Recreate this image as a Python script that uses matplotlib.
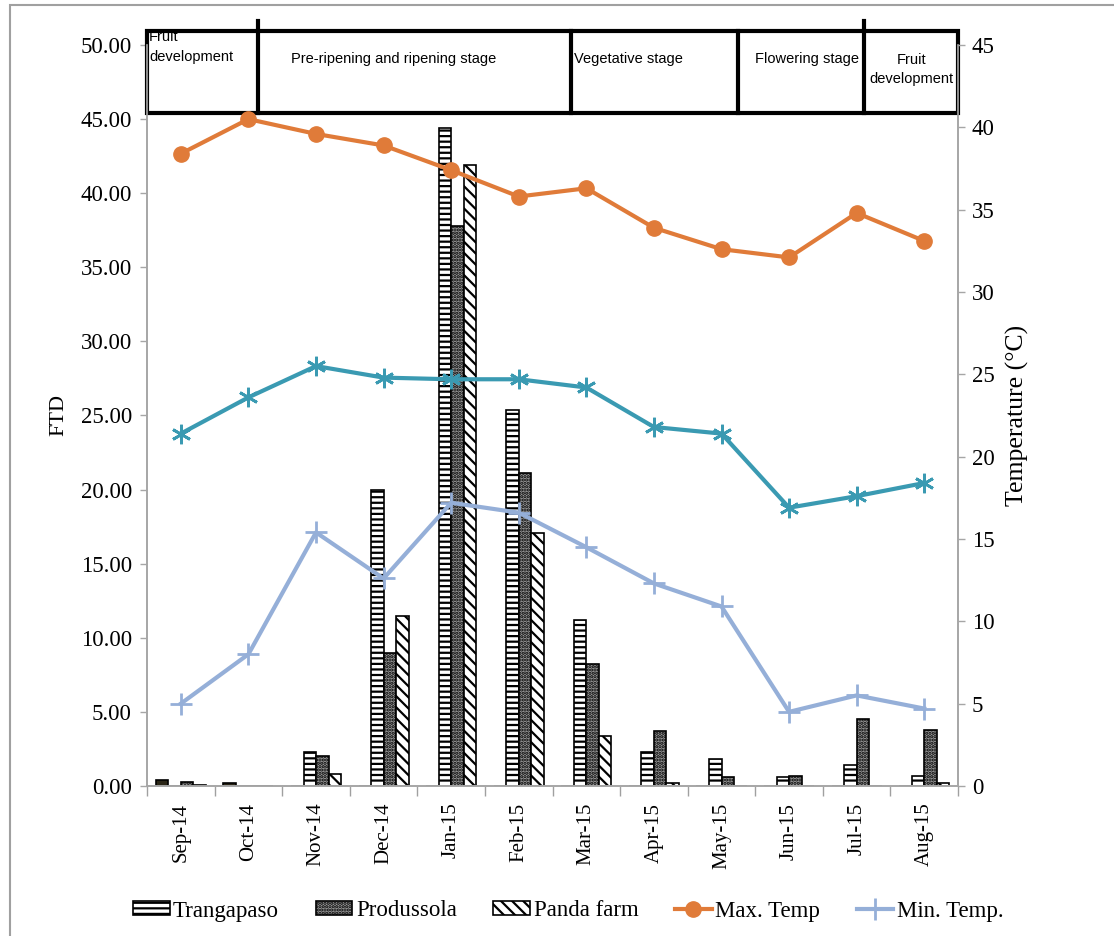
import matplotlib
matplotlib.use("Agg")
import matplotlib.pyplot as plt
import matplotlib.transforms as mtransforms
from matplotlib.patches import Rectangle
from matplotlib.lines import Line2D
import numpy as np

# ---- data -------------------------------------------------------------
months = ["Sep-14", "Oct-14", "Nov-14", "Dec-14", "Jan-15", "Feb-15",
          "Mar-15", "Apr-15", "May-15", "Jun-15", "Jul-15", "Aug-15"]

# FTD per site
dark_series = [0.4, 0.2, 0, 0, 0, 0, 0, 0, 0, 0, 0, 0]
trangapaso = [0.0, 0.0, 2.3, 20.0, 44.4, 25.4, 11.2, 2.3, 1.8, 0.6, 1.4, 0.7]
produssola = [0.3, 0.02, 2.0, 9.0, 37.8, 21.1, 8.2, 3.7, 0.6, 0.7, 4.5, 3.8]
panda_farm = [0.05, 0.02, 0.8, 11.5, 41.9, 17.1, 3.4, 0.2, 0.02, 0.02, 0.02, 0.2]

# temperatures (°C)
max_temp = [38.4, 40.5, 39.6, 38.9, 37.4, 35.8, 36.3, 33.9, 32.6, 32.1, 34.8, 33.1]
mean_temp = [21.4, 23.6, 25.5, 24.8, 24.7, 24.7, 24.2, 21.8, 21.4, 16.9, 17.6, 18.4]
min_temp = [5.0, 8.0, 15.4, 12.6, 17.2, 16.6, 14.5, 12.3, 10.9, 4.5, 5.5, 4.7]

# phenological stages: (label, start, end) on the category axis
stage_labels = ["Fruit\ndevelopment", "Pre-ripening and ripening stage",
                "Vegetative stage", "Flowering stage", "Fruit\ndevelopment"]
stage_edges = [-0.5, 1.14, 5.77, 8.25, 10.11, 11.5]

# ---- figure -----------------------------------------------------------
plt.rcParams["hatch.linewidth"] = 1.6
serif = "Liberation Serif"

fig = plt.figure(figsize=(11.14, 9.36), dpi=100)
ax = fig.add_axes([0.132, 0.1603, 0.728, 0.7916])
ax2 = ax.twinx()

x = np.arange(len(months))
w = 0.185
edge = "black"
ax.bar(x - 1.5 * w, dark_series, w, color="#2b2617", edgecolor=edge, linewidth=1.2)
ax.bar(x - 0.5 * w, trangapaso, w, color="white", edgecolor=edge, hatch="---",
       linewidth=1.2, label="Trangapaso")
ax.bar(x + 0.5 * w, produssola, w, color="#9a9a9a", edgecolor=edge, hatch=".....",
       linewidth=1.2, label="Produssola")
ax.bar(x + 1.5 * w, panda_farm, w, color="white", edgecolor=edge, hatch="\\\\\\",
       linewidth=1.2, label="Panda farm")

orange = "#E07B39"
teal = "#3A9AB2"
lblue = "#95AFD8"
ax2.plot(x, max_temp, color=orange, lw=3, marker="o", ms=11, label="Max. Temp")
ax2.plot(x, mean_temp, color=teal, lw=3, marker=(6, 2, 0), ms=14, mew=2)
ax2.plot(x, min_temp, color=lblue, lw=3, marker="+", ms=16, mew=2, label="Min. Temp.")

# axes
ax.set_xlim(-0.5, 11.5)
ax.set_ylim(0, 50)
ax2.set_ylim(0, 45)
ax.set_yticks(np.arange(0, 50.1, 5))
ax.set_yticklabels([f"{v:.2f}" for v in np.arange(0, 50.1, 5)])
ax2.set_yticks(np.arange(0, 45.1, 5))

ax.set_xticks(x)
ax.set_xticklabels(months, rotation=90, fontfamily=serif, fontsize=15)
ax.set_xticks(np.arange(-0.5, 11.6, 1), minor=True)
ax.tick_params(axis="x", which="major", length=0, pad=12)
ax.tick_params(axis="x", which="minor", length=7, color="#a0a0a0", width=1)

gray = "#a6a6a6"
for a in (ax, ax2):
    a.spines["top"].set_visible(False)
    for s in ("left", "right", "bottom"):
        a.spines[s].set_color(gray)
        a.spines[s].set_linewidth(1.2)
    a.tick_params(axis="y", length=5, color=gray, width=1, labelsize=16.5)
    for lab in a.get_yticklabels():
        lab.set_fontfamily(serif)
ax.tick_params(axis="y", pad=6)
ax2.tick_params(axis="y", pad=5)

ax.set_ylabel("FTD", fontfamily=serif, fontsize=16, labelpad=9)
ax2.set_ylabel("Temperature (°C)", fontfamily=serif, fontsize=18.5, labelpad=8)

# stage boxes along the top
trans = mtransforms.blended_transform_factory(ax.transData, ax.transAxes)
y0, y1 = 0.908, 1.019
ax.add_patch(Rectangle((stage_edges[0], y0), stage_edges[-1] - stage_edges[0], y1 - y0,
                       transform=trans, fill=False, edgecolor="black", lw=3,
                       clip_on=False, zorder=5))
for i, e in enumerate(stage_edges[1:-1]):
    top = 1.032 if i in (0, 3) else y1
    ax.plot([e, e], [y0, top], transform=trans, color="black", lw=3,
            clip_on=False, zorder=5)

sans = "Liberation Sans"
fs = 10.5
ax.text(stage_edges[0] + 0.03, 1.02, stage_labels[0], transform=trans, ha="left",
        va="top", fontfamily=sans, fontsize=fs, linespacing=1.5)
ax.text(stage_edges[1] + 0.49, 0.981, stage_labels[1], transform=trans, ha="left",
        va="center", fontfamily=sans, fontsize=fs)
ax.text(stage_edges[2] + 0.05, 0.981, stage_labels[2], transform=trans, ha="left",
        va="center", fontfamily=sans, fontsize=fs)
ax.text(stage_edges[3] + 0.24, 0.981, stage_labels[3], transform=trans, ha="left",
        va="center", fontfamily=sans, fontsize=fs)
ax.text((stage_edges[4] + stage_edges[5]) / 2, 0.967, stage_labels[4], transform=trans,
        ha="center", va="center", fontfamily=sans, fontsize=fs, linespacing=1.5)

# legend
handles = [
    Rectangle((0, 0), 1, 1, facecolor="white", edgecolor=edge, hatch="---", lw=1.2),
    Rectangle((0, 0), 1, 1, facecolor="#9a9a9a", edgecolor=edge, hatch=".....", lw=1.2),
    Rectangle((0, 0), 1, 1, facecolor="white", edgecolor=edge, hatch="\\\\\\", lw=1.2),
    Line2D([], [], color=orange, lw=3, marker="o", ms=11),
    Line2D([], [], color=lblue, lw=3, marker="+", ms=16, mew=2),
]
labels = ["Trangapaso", "Produssola", "Panda farm", "Max. Temp", "Min. Temp."]
fig.legend(handles, labels, loc="center", bbox_to_anchor=(0.51, 1 - 911 / 936),
           ncol=5, frameon=False, prop={"family": serif, "size": 16.5},
           handlelength=1.6, handleheight=0.55, handletextpad=0.15, columnspacing=1.6)

# outer chart frame
fig.add_artist(Rectangle((10 / 1114, -0.05), 1.2, 1 - 5 / 936 + 0.05,
                         transform=fig.transFigure, fill=False,
                         edgecolor="#a0a0a0", lw=1.5))

fig.savefig("out.png", dpi=100)
